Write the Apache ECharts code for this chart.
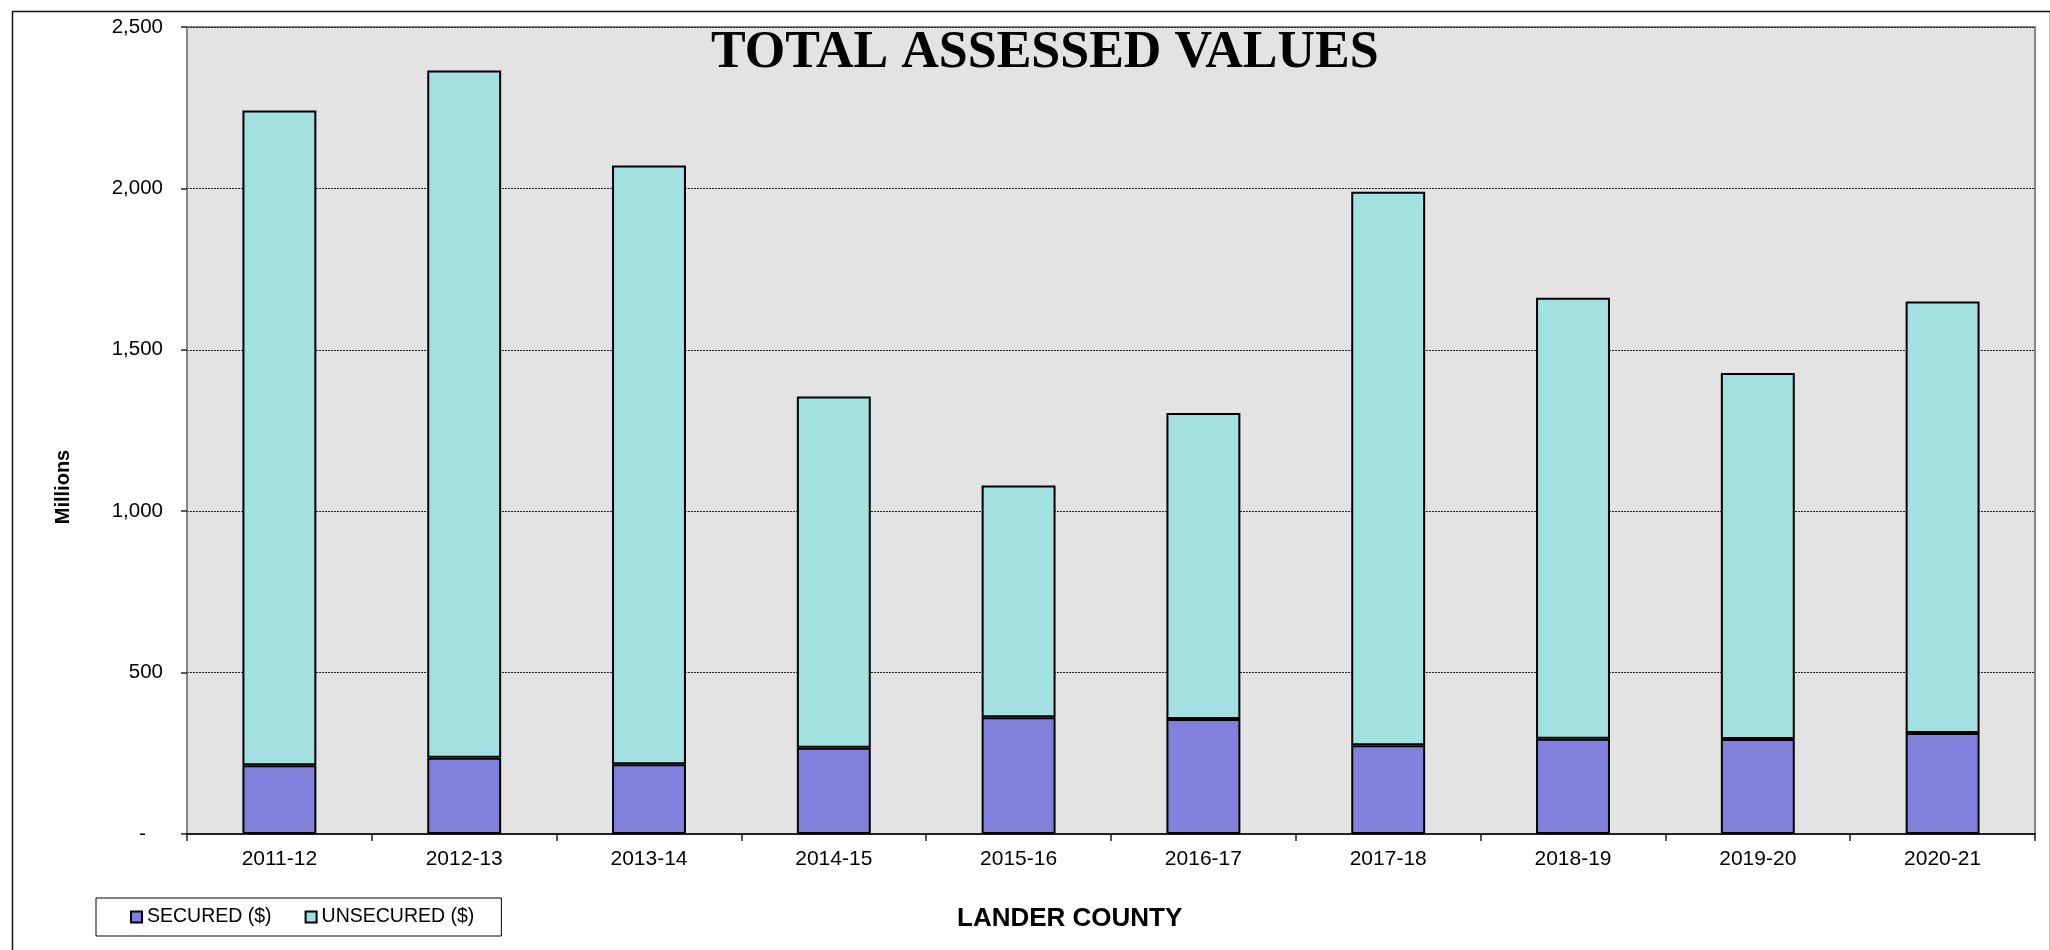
<!DOCTYPE html>
<html>
<head>
<meta charset="utf-8">
<script src="https://cdn.jsdelivr.net/npm/echarts@6/dist/echarts.min.js"></script>
<style>
html,body{margin:0;padding:0;background:#fff;}
#chart{width:2050px;height:950px;}
</style>
</head>
<body>
<div id="chart"></div>
<script>
const categories = ['2011-12','2012-13','2013-14','2014-15','2015-16','2016-17','2017-18','2018-19','2019-20','2020-21'];
const secured = [213, 236, 216, 267, 362, 356, 275, 295, 294, 313];
const unsecured = [2028, 2129, 1855, 1088, 718, 948, 1715, 1366, 1134, 1337];
const seriesNames = ['SECURED ($)', 'UNSECURED ($)'];
const yMin = 0, yMax = 2500, yStep = 500;
const titleText = 'TOTAL ASSESSED VALUES';
const subText = 'LANDER COUNTY';
const yName = 'Millions';

const chart = echarts.init(document.getElementById('chart'));
const sans = 'Liberation Sans, Arial, sans-serif';
chart.setOption({
  animation: false,
  backgroundColor: '#ffffff',
  title: [
    { text: titleText, left: 706, top: 23,
      textStyle: { fontFamily: 'Liberation Serif, Times New Roman, serif', fontWeight: 'bold', fontSize: 52, color: '#000' } },
    { text: subText, left: 952, top: 901,
      textStyle: { fontFamily: sans, fontWeight: 'bold', fontSize: 26, color: '#000' } }
  ],
  graphic: [
    { type: 'rect', left: 10, top: 9, shape: { x: 0, y: 0, width: 2038, height: 960 }, z: -1,
      style: { fill: 'none', stroke: '#111', lineWidth: 1.5 } },
    { type: 'text', x: 63, y: 487, rotation: Math.PI / 2,
      style: { text: yName, font: 'bold 20px Liberation Sans, Arial, sans-serif', fill: '#000', align: 'center', verticalAlign: 'middle' } }
  ],
  legend: {
    left: 96, top: 898, orient: 'horizontal',
    padding: [9, 27, 9, 34],
    itemWidth: 11, itemHeight: 11, itemGap: 33,
    borderColor: '#000', borderWidth: 1, backgroundColor: '#fff',
    icon: 'rect',
    textStyle: { fontFamily: sans, fontSize: 19.5, color: '#000', lineHeight: 19 },
    data: seriesNames
  },
  grid: {
    left: 187, top: 27, right: 15, bottom: 116,
    show: true, backgroundColor: '#E3E3E3', borderColor: '#858585', borderWidth: 2,
    containLabel: false
  },
  xAxis: {
    type: 'category', data: categories,
    axisLine: { show: true, lineStyle: { color: '#222', width: 2 } },
    axisTick: { show: true, length: 7, lineStyle: { color: '#222', width: 1.5 } },
    axisLabel: { margin: 15, fontFamily: sans, fontSize: 21, color: '#000' },
    splitLine: { show: false }
  },
  yAxis: {
    type: 'value', min: yMin, max: yMax, interval: yStep,
    axisLine: { show: true, lineStyle: { color: '#858585', width: 2 } },
    axisTick: { show: true, length: 6, lineStyle: { color: '#222', width: 1.5 } },
    axisLabel: {
      margin: 24, fontFamily: sans, fontSize: 20.5, color: '#000',
      formatter: function (v) { return v === 0 ? '-   ' : v.toLocaleString('en-US'); }
    },
    splitLine: { show: true, lineStyle: { color: '#222', width: 1, type: [2, 1] } }
  },
  series: [
    { name: seriesNames[0], type: 'bar', stack: 'total', data: secured, barWidth: '40%',
      itemStyle: { color: '#8181DD', borderColor: '#000', borderWidth: 2 } },
    { name: seriesNames[1], type: 'bar', stack: 'total', data: unsecured, barWidth: '40%',
      itemStyle: { color: '#A3E0E1', borderColor: '#000', borderWidth: 2 } }
  ]
});
</script>
</body>
</html>
